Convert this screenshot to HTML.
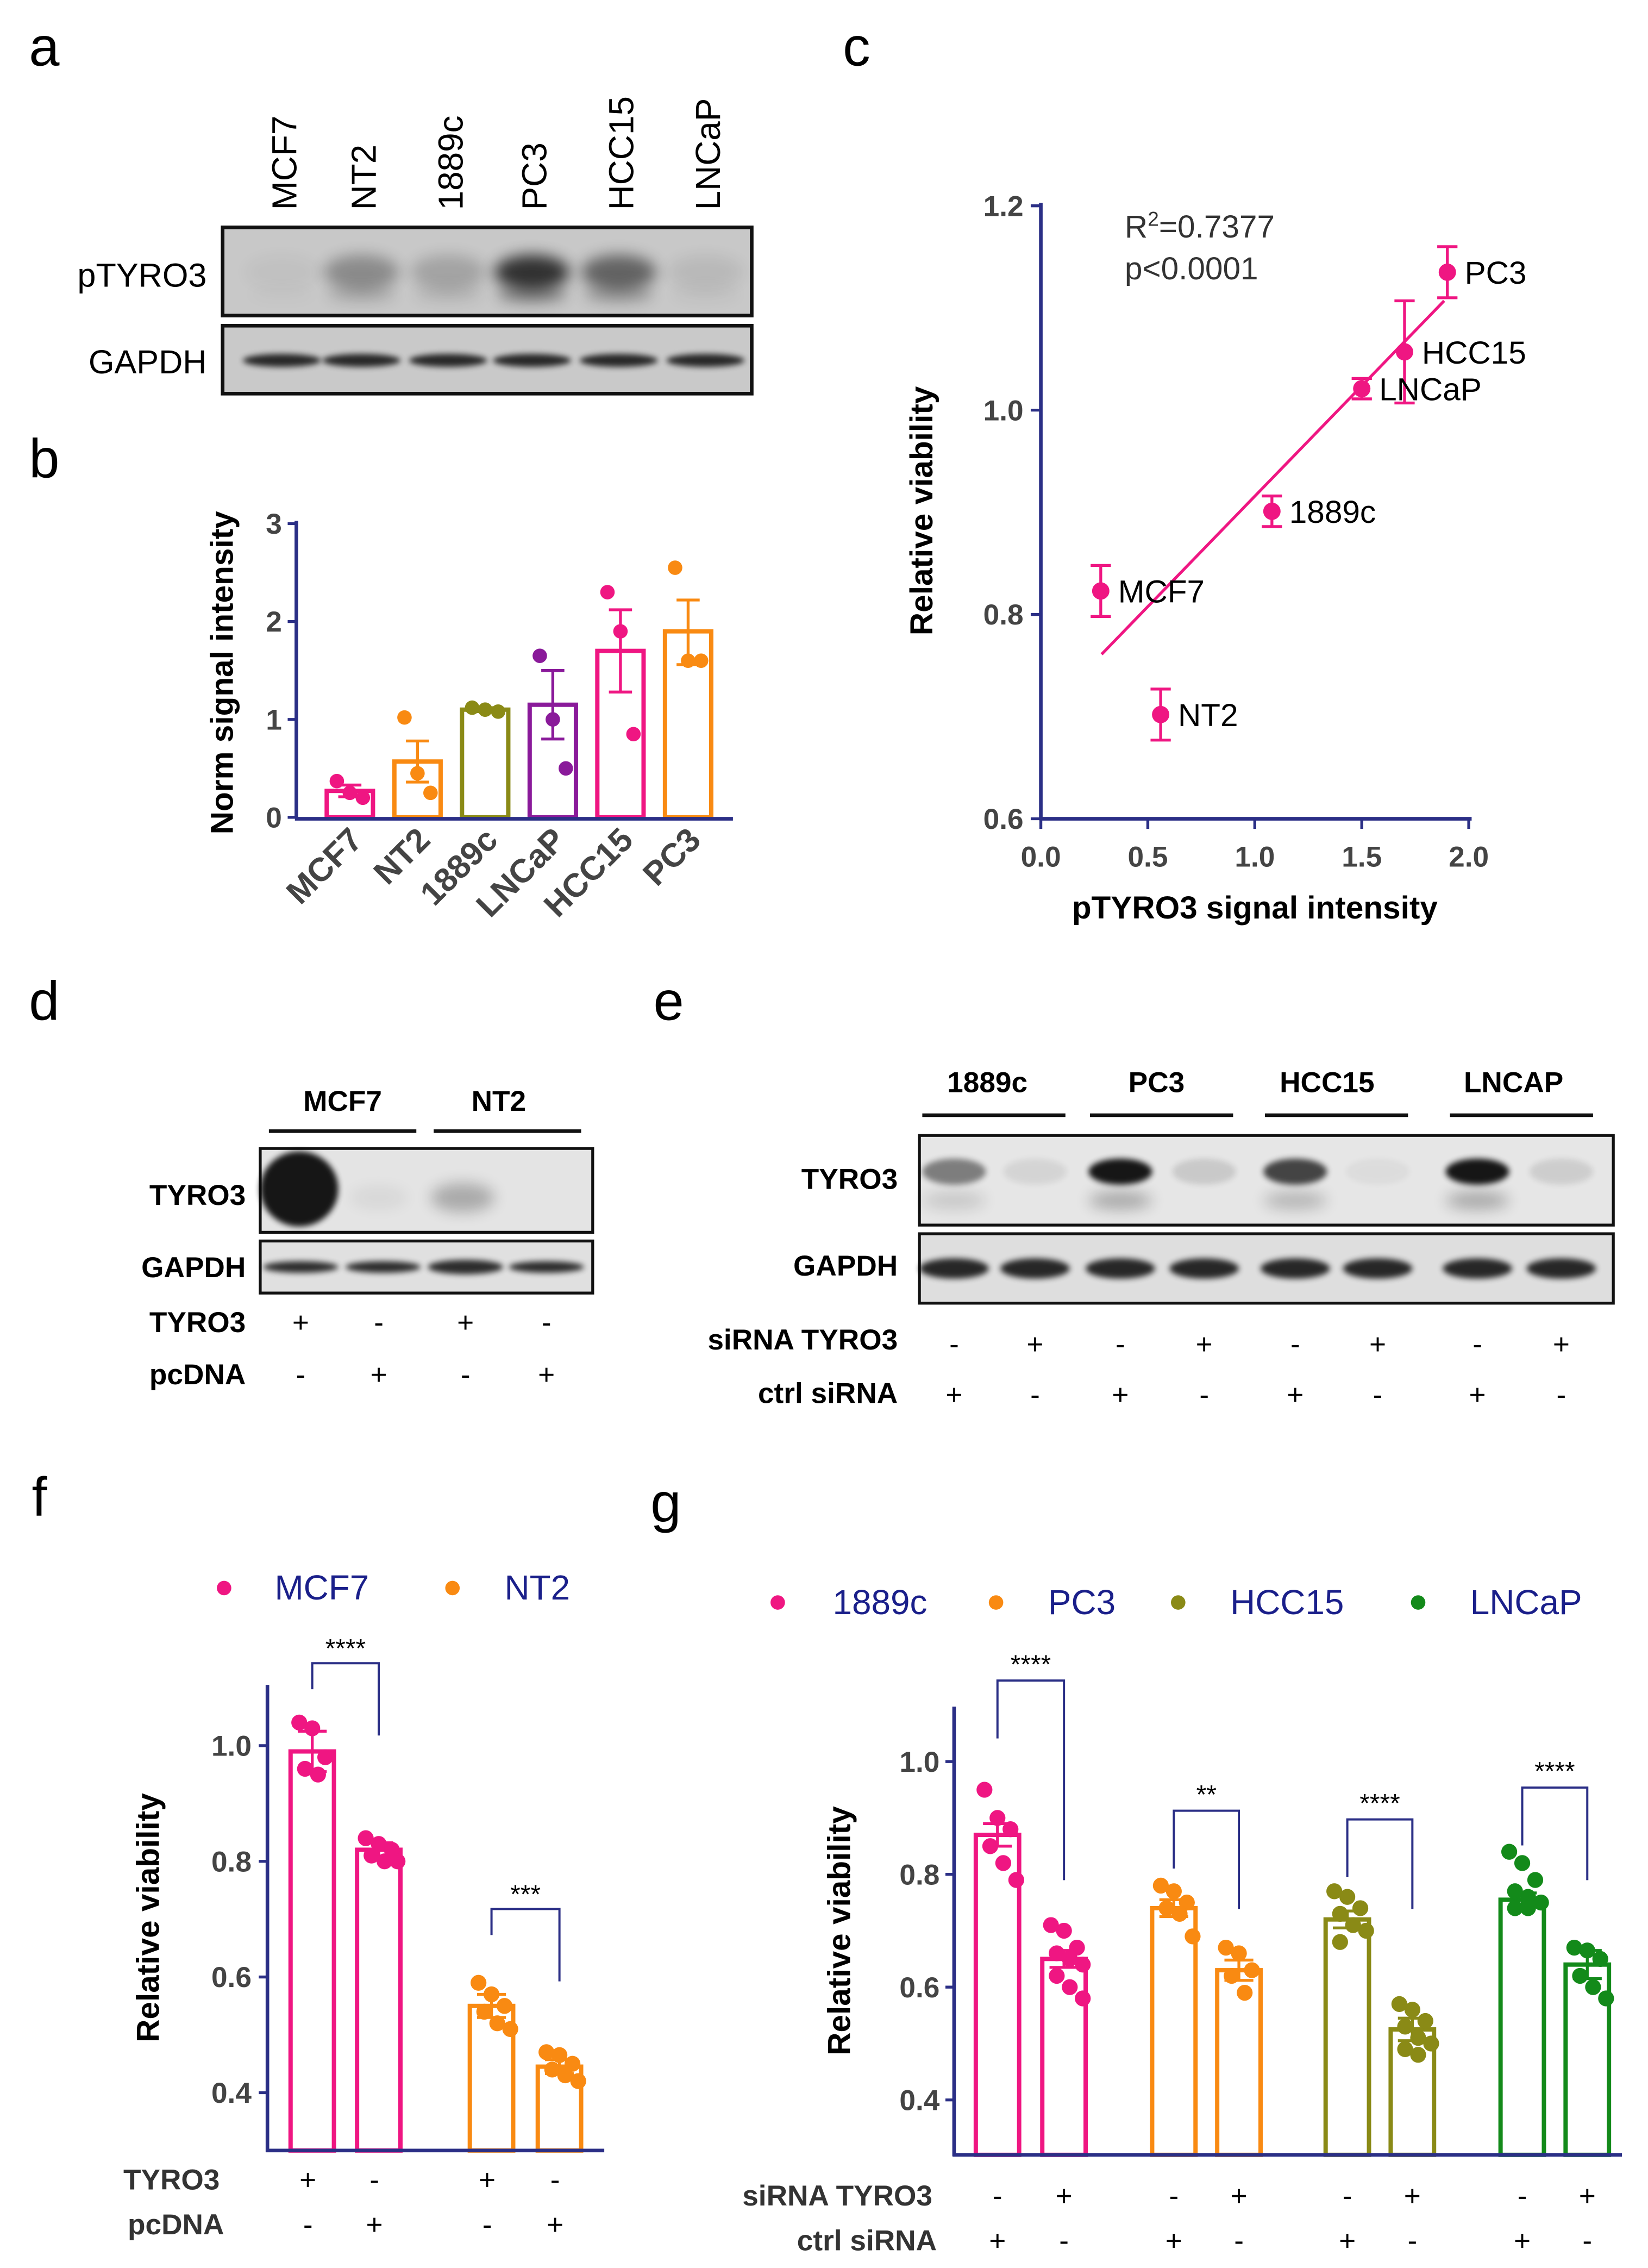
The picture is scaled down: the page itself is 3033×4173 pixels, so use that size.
<!DOCTYPE html>
<html><head><meta charset="utf-8"><style>
html,body{margin:0;padding:0;background:#fff}
svg{display:block}
text{font-family:"Liberation Sans",sans-serif}
</style></head><body>
<svg id="fig" xmlns="http://www.w3.org/2000/svg" width="3033" height="4173" viewBox="0 0 1140 1568">
<defs>
<filter id="bl" x="-50%" y="-100%" width="200%" height="300%"><feGaussianBlur stdDeviation="5"/></filter>
<filter id="bl2" x="-50%" y="-100%" width="200%" height="300%"><feGaussianBlur stdDeviation="2"/></filter>
</defs>
<g id="root"></g>
</svg>
<script>
// ---- data ----
const lanesA = ['MCF7','NT2','1889c','PC3','HCC15','LNCaP'];
const bCats = ['MCF7','NT2','1889c','LNCaP','HCC15','PC3'];
const bMeans = [0.27,0.57,1.1,1.15,1.7,1.9];
const bErrHi = [0.33,0.78,1.12,1.5,2.12,2.22];
const bErrLo = [0.21,0.36,1.08,0.8,1.28,1.56];
const bPts = [[0.37,0.25,0.2],[1.02,0.45,0.25],[1.12,1.1,1.08],[1.65,1.0,0.5],[2.3,1.9,0.85],[2.55,1.6,1.6]];
const bTicks = [0,1,2,3];
const cNames = ['PC3','HCC15','LNCaP','1889c','MCF7','NT2'];
const cX = [1.9,1.7,1.5,1.08,0.28,0.56];
const cY = [1.135,1.057,1.021,0.901,0.823,0.702];
const cErr = [0.025,0.05,0.01,0.015,0.025,0.025];
const cXTicks = [0,0.5,1,1.5,2];
const cYTicks = [0.6,0.8,1.0,1.2];
const cFitX = [0.284,1.885];
const cFitY = [0.761,1.107];
const fMeans = [0.99,0.82,0.55,0.445];
const fErr = [0.035,0.012,0.02,0.012];
const fPts = [[1.04,1.03,0.98,0.96,0.95],[0.84,0.83,0.82,0.81,0.80,0.80],[0.59,0.57,0.55,0.54,0.52,0.51],[0.47,0.465,0.45,0.44,0.43,0.42]];
const fTicks = [0.4,0.6,0.8,1.0];
const gMeans = [0.87,0.65,0.74,0.63,0.72,0.525,0.755,0.64];
const gErr = [0.02,0.015,0.015,0.018,0.015,0.02,0.012,0.025];
const gPts = [[0.95,0.90,0.88,0.85,0.82,0.79],[0.71,0.70,0.67,0.66,0.65,0.64,0.62,0.60,0.58],
 [0.78,0.77,0.75,0.74,0.73,0.69],[0.67,0.66,0.63,0.62,0.59],
 [0.77,0.76,0.74,0.73,0.71,0.70,0.68],[0.57,0.56,0.54,0.53,0.51,0.50,0.49,0.48],
 [0.84,0.82,0.79,0.77,0.76,0.75,0.74,0.74],[0.67,0.665,0.65,0.62,0.60,0.58]];
const gTicks = [0.4,0.6,0.8,1.0];
const gStars = ['****','**','****','****'];

const PINK='#ef1682',ORANGE='#f98a12',OLIVE='#8a8a16',PURPLE='#8a1a9a',GREEN='#138a1a',NAVY='#2b2f86',DARKBLUE='#1a1f8a';
const NS='http://www.w3.org/2000/svg';
const root=document.getElementById('root');
function el(tag,attrs,parent,txt){const e=document.createElementNS(NS,tag);for(const k in attrs)e.setAttribute(k,attrs[k]);if(txt!==undefined)e.textContent=txt;(parent||root).appendChild(e);return e;}

[['a',20,45],['b',20,330],['c',583,45],['d',20,705],['e',452,705],['f',22,1048],['g',450,1052]].forEach(p=>{
 const t=el('text',{x:p[1],y:p[2],'font-size':38});t.textContent=p[0];
 
 
});

// ---- panel a blot ----
const ga=el('g',{});


const laneXA=[195,250,310,368,428,488];
lanesA.forEach((n,i)=>{const t=el('text',{transform:`translate(${laneXA[i]+10},145) rotate(-90)`,'font-size':24},ga,n);
 
 });
el('rect',{x:154,y:157,width:366,height:61,fill:'#c8c8c8',stroke:'#111','stroke-width':2.5},ga);
el('rect',{x:154,y:225,width:366,height:47,fill:'#c9c9c9',stroke:'#111','stroke-width':2.5},ga);
const pInt=[0.03,0.3,0.18,0.75,0.5,0.07];
laneXA.forEach((x,i)=>{el('ellipse',{cx:x,cy:188,rx:26,ry:12,fill:'#000',opacity:pInt[i],filter:'url(#bl)'},ga);
 el('ellipse',{cx:x,cy:203,rx:24,ry:6,fill:'#000',opacity:pInt[i]*0.5,filter:'url(#bl)'},ga);
 el('ellipse',{cx:x,cy:249,rx:27,ry:4.5,fill:'#000',opacity:0.8,filter:'url(#bl2)'},ga);});
el('text',{x:143,y:198,'font-size':23,'text-anchor':'end'},ga,'pTYRO3');
el('text',{x:143,y:258,'font-size':23,'text-anchor':'end'},ga,'GAPDH');

// ---- panel b ----
const gb=el('g',{});


const bY=v=>565-v*67.7, bX=i=>242+i*46.8;
const bCol=[PINK,ORANGE,OLIVE,PURPLE,PINK,ORANGE];
bTicks.forEach(t=>{el('line',{x1:199,x2:205,y1:bY(t),y2:bY(t),stroke:NAVY,'stroke-width':2},gb);
 el('text',{x:195,y:bY(t)+7,'font-size':20,'text-anchor':'end',fill:'#444','font-weight':'bold'},gb,t);});
bCats.forEach((c,i)=>{const x=bX(i);
 const r=el('rect',{x:x-16,y:bY(bMeans[i]),width:32,height:bY(0)-bY(bMeans[i]),fill:'none',stroke:bCol[i],'stroke-width':3},gb);
 
 
 el('line',{x1:x,x2:x,y1:bY(bErrHi[i]),y2:bY(bErrLo[i]),stroke:bCol[i],'stroke-width':2},gb);
 el('line',{x1:x-8,x2:x+8,y1:bY(bErrHi[i]),y2:bY(bErrHi[i]),stroke:bCol[i],'stroke-width':2},gb);
 el('line',{x1:x-8,x2:x+8,y1:bY(bErrLo[i]),y2:bY(bErrLo[i]),stroke:bCol[i],'stroke-width':2},gb);
 bPts[i].forEach((v,j)=>{const d=el('circle',{cx:x+(j-1)*9,cy:bY(v),r:5,fill:bCol[i]},gb);
  
  });
 el('text',{transform:`translate(${x+10},${582}) rotate(-45)`,'font-size':23,'text-anchor':'end',fill:'#444','font-weight':'bold'},gb,c);
});
el('line',{x1:205,x2:205,y1:360,y2:566,stroke:NAVY,'stroke-width':2.5},gb);
el('line',{x1:204,x2:507,y1:566,y2:566,stroke:NAVY,'stroke-width':2.5},gb);
el('text',{transform:'translate(161,465) rotate(-90)','font-size':22,'text-anchor':'middle','font-weight':'bold'},gb,'Norm signal intensity');

// ---- panel c ----
const gc=el('g',{});


const cXs=v=>720+v*148, cYs=v=>566-(v-0.6)*706.5;
cYTicks.forEach(t=>{el('line',{x1:713,x2:720,y1:cYs(t),y2:cYs(t),stroke:NAVY,'stroke-width':2},gc);
 el('text',{x:708,y:cYs(t)+7,'font-size':20,'text-anchor':'end',fill:'#444','font-weight':'bold'},gc,t.toFixed(1));});
cXTicks.forEach(t=>{el('line',{x1:cXs(t),x2:cXs(t),y1:566,y2:573,stroke:NAVY,'stroke-width':2},gc);
 el('text',{x:cXs(t),y:599,'font-size':20,'text-anchor':'middle',fill:'#444','font-weight':'bold'},gc,t.toFixed(1));});
el('line',{x1:720,x2:720,y1:140,y2:567,stroke:NAVY,'stroke-width':2.5},gc);
el('line',{x1:719,x2:1018,y1:566,y2:566,stroke:NAVY,'stroke-width':2.5},gc);
const fl=el('line',{x1:cXs(cFitX[0]),y1:cYs(cFitY[0]),x2:cXs(cFitX[1]),y2:cYs(cFitY[1]),stroke:PINK,'stroke-width':2},gc);


cNames.forEach((n,i)=>{const x=cXs(cX[i]),y=cYs(cY[i]),e=cErr[i];
 el('line',{x1:x,x2:x,y1:cYs(cY[i]+e),y2:cYs(cY[i]-e),stroke:PINK,'stroke-width':2},gc);
 el('line',{x1:x-7,x2:x+7,y1:cYs(cY[i]+e),y2:cYs(cY[i]+e),stroke:PINK,'stroke-width':2},gc);
 el('line',{x1:x-7,x2:x+7,y1:cYs(cY[i]-e),y2:cYs(cY[i]-e),stroke:PINK,'stroke-width':2},gc);
 const d=el('circle',{cx:x,cy:y,r:6,fill:PINK},gc);
 
 
 el('text',{x:x+12,y:y+8,'font-size':22},gc,n);});
const r2=el('text',{x:778,y:164,'font-size':22,fill:'#333'},gc);r2.innerHTML='R<tspan dy="-8" font-size="14">2</tspan><tspan dy="8">=0.7377</tspan>';
el('text',{x:778,y:193,'font-size':22,fill:'#333'},gc,'p<0.0001');
el('text',{transform:'translate(645,353) rotate(-90)','font-size':22,'text-anchor':'middle','font-weight':'bold'},gc,'Relative viability');
el('text',{x:868,y:635,'font-size':22,'text-anchor':'middle','font-weight':'bold'},gc,'pTYRO3 signal intensity');

// ---- panel d blot ----
const gd=el('g',{});


el('text',{x:237,y:768,'font-size':20,'font-weight':'bold','text-anchor':'middle'},gd,'MCF7');
el('text',{x:345,y:768,'font-size':20,'font-weight':'bold','text-anchor':'middle'},gd,'NT2');
el('line',{x1:186,x2:288,y1:782,y2:782,stroke:'#111','stroke-width':2.5},gd);
el('line',{x1:300,x2:402,y1:782,y2:782,stroke:'#111','stroke-width':2.5},gd);
el('rect',{x:180,y:794,width:230,height:58,fill:'#e4e4e4',stroke:'#111','stroke-width':2},gd);
el('rect',{x:180,y:858,width:230,height:36,fill:'#e0e0e0',stroke:'#111','stroke-width':2},gd);
el('ellipse',{cx:207,cy:822,rx:27,ry:26,fill:'#000',opacity:0.9,filter:'url(#bl2)'},gd);
el('ellipse',{cx:320,cy:828,rx:22,ry:10,fill:'#000',opacity:0.25,filter:'url(#bl)'},gd);
el('ellipse',{cx:262,cy:828,rx:20,ry:8,fill:'#000',opacity:0.05,filter:'url(#bl)'},gd);
[208,265,322,378].forEach((x,i)=>el('ellipse',{cx:x,cy:876,rx:26,ry:[4,4,5,4][i],fill:'#000',opacity:0.8,filter:'url(#bl2)'},gd));
el('text',{x:170,y:833,'font-size':20,'font-weight':'bold','text-anchor':'end'},gd,'TYRO3');
el('text',{x:170,y:883,'font-size':20,'font-weight':'bold','text-anchor':'end'},gd,'GAPDH');
el('text',{x:170,y:921,'font-size':20,'font-weight':'bold','text-anchor':'end'},gd,'TYRO3');
el('text',{x:170,y:957,'font-size':20,'font-weight':'bold','text-anchor':'end'},gd,'pcDNA');
['+','-','+','-'].forEach((s,i)=>el('text',{x:[208,262,322,378][i],y:921,'font-size':20,'text-anchor':'middle'},gd,s));
['-','+','-','+'].forEach((s,i)=>el('text',{x:[208,262,322,378][i],y:957,'font-size':20,'text-anchor':'middle'},gd,s));

// ---- panel e blot ----
const ge=el('g',{});


[['1889c',683,638,737],['PC3',800,754,853],['HCC15',918,875,974],['LNCAP',1047,1003,1102]].forEach(g=>{
 el('text',{x:g[1],y:755,'font-size':20,'font-weight':'bold','text-anchor':'middle'},ge,g[0]);
 el('line',{x1:g[2],x2:g[3],y1:771,y2:771,stroke:'#111','stroke-width':2.5},ge);});
el('rect',{x:636,y:785,width:480,height:62,fill:'#e6e6e6',stroke:'#111','stroke-width':2},ge);
el('rect',{x:636,y:853,width:480,height:48,fill:'#dedede',stroke:'#111','stroke-width':2},ge);
const eLX=[660,716,775,833,896,953,1022,1080];
const eInt=[0.45,0.07,0.9,0.12,0.7,0.04,0.9,0.1];
eLX.forEach((x,i)=>{el('ellipse',{cx:x,cy:810,rx:22,ry:9,fill:'#000',opacity:eInt[i],filter:'url(#bl2)'},ge);
 if(eInt[i]>0.4)el('ellipse',{cx:x,cy:830,rx:22,ry:6,fill:'#000',opacity:eInt[i]*0.3,filter:'url(#bl)'},ge);
 el('ellipse',{cx:x,cy:877,rx:24,ry:7,fill:'#000',opacity:0.82,filter:'url(#bl2)'},ge);});
el('text',{x:621,y:822,'font-size':20,'font-weight':'bold','text-anchor':'end'},ge,'TYRO3');
el('text',{x:621,y:882,'font-size':20,'font-weight':'bold','text-anchor':'end'},ge,'GAPDH');
el('text',{x:621,y:933,'font-size':20,'font-weight':'bold','text-anchor':'end'},ge,'siRNA TYRO3');
el('text',{x:621,y:970,'font-size':20,'font-weight':'bold','text-anchor':'end'},ge,'ctrl siRNA');
eLX.forEach((x,i)=>{el('text',{x:x,y:936,'font-size':20,'text-anchor':'middle'},ge,i%2?'+':'-');
 el('text',{x:x,y:971,'font-size':20,'text-anchor':'middle'},ge,i%2?'-':'+');});

function barPanel(g,xs,means,errs,pts,cols,yf,w,name){
 xs.forEach((x,i)=>{const c=cols[i];
  const r=el('rect',{x:x-w/2,y:yf(means[i]),width:w,height:yf.base-yf(means[i]),fill:'none',stroke:c,'stroke-width':3},g);
  
  
  const hi=yf(means[i]+errs[i]),lo=yf(means[i]-errs[i]);
  el('line',{x1:x,x2:x,y1:hi,y2:lo,stroke:c,'stroke-width':2},g);
  el('line',{x1:x-10,x2:x+10,y1:hi,y2:hi,stroke:c,'stroke-width':2},g);
  el('line',{x1:x-10,x2:x+10,y1:lo,y2:lo,stroke:c,'stroke-width':2},g);
  pts[i].forEach((v,j)=>{const off=((j%3)-1)*9+(j>=3?4:0);
   const d=el('circle',{cx:x+off,cy:yf(v),r:5.5,fill:c},g);
   
   });
 });
}

// ---- panel f ----
const gf=el('g',{});


const fY=v=>1447-(v-0.4)*400; fY.base=1487;
const fX=[216,262,340,387];
fTicks.forEach(t=>{el('line',{x1:179,x2:185,y1:fY(t),y2:fY(t),stroke:NAVY,'stroke-width':2},gf);
 el('text',{x:174,y:fY(t)+7,'font-size':20,'text-anchor':'end',fill:'#444','font-weight':'bold'},gf,t.toFixed(1));});
barPanel(gf,fX,fMeans,fErr,fPts,[PINK,PINK,ORANGE,ORANGE],fY,30,'f');
el('line',{x1:185,x2:185,y1:1165,y2:1488,stroke:NAVY,'stroke-width':2.5},gf);
el('line',{x1:184,x2:418,y1:1487,y2:1487,stroke:NAVY,'stroke-width':2.5},gf);
[[216,262,1150,'****'],[340,387,1320,'***']].forEach(s=>{
 el('path',{d:`M${s[0]},${s[2]+18}V${s[2]}H${s[1]}V${s[2]+50}`,fill:'none',stroke:NAVY,'stroke-width':1.5},gf);
 el('text',{x:(s[0]+s[1])/2,y:s[2]-4,'font-size':18,'text-anchor':'middle'},gf,s[3]);});
el('text',{transform:'translate(110,1326) rotate(-90)','font-size':22,'text-anchor':'middle','font-weight':'bold'},gf,'Relative viability');
el('circle',{cx:155,cy:1098,r:5,fill:PINK},gf);
el('text',{x:190,y:1106,'font-size':24,fill:DARKBLUE},gf,'MCF7');
el('circle',{cx:313,cy:1098,r:5,fill:ORANGE},gf);
el('text',{x:349,y:1106,'font-size':24,fill:DARKBLUE},gf,'NT2');
el('text',{x:152,y:1514,'font-size':20,'font-weight':'bold','text-anchor':'end',fill:'#333'},gf,'TYRO3');
el('text',{x:155,y:1545,'font-size':20,'font-weight':'bold','text-anchor':'end',fill:'#333'},gf,'pcDNA');
fX.forEach((x,i)=>{el('text',{x:x-3,y:1514,'font-size':20,'text-anchor':'middle'},gf,i%2?'-':'+');
 el('text',{x:x-3,y:1545,'font-size':20,'text-anchor':'middle'},gf,i%2?'+':'-');});

// ---- panel g ----
const gg=el('g',{});


const gY=v=>1452-(v-0.4)*390; gY.base=1490;
const gX=[690,736,812,857,932,977,1053,1098];
gTicks.forEach(t=>{el('line',{x1:654,x2:660,y1:gY(t),y2:gY(t),stroke:NAVY,'stroke-width':2},gg);
 el('text',{x:650,y:gY(t)+7,'font-size':20,'text-anchor':'end',fill:'#444','font-weight':'bold'},gg,t.toFixed(1));});
barPanel(gg,gX,gMeans,gErr,gPts,[PINK,PINK,ORANGE,ORANGE,OLIVE,OLIVE,GREEN,GREEN],gY,30,'g');
el('line',{x1:660,x2:660,y1:1180,y2:1491,stroke:NAVY,'stroke-width':2.5},gg);
el('line',{x1:659,x2:1122,y1:1490,y2:1490,stroke:NAVY,'stroke-width':2.5},gg);
[[1162,1300],[1252,1320],[1258,1320],[1236,1300]].forEach((s,k)=>{const a=gX[2*k],b=gX[2*k+1];
 el('path',{d:`M${a},${s[0]+40}V${s[0]}H${b}V${s[1]}`,fill:'none',stroke:NAVY,'stroke-width':1.5},gg);
 el('text',{x:(a+b)/2,y:s[0]-5,'font-size':18,'text-anchor':'middle'},gg,gStars[k]);});
el('text',{transform:'translate(588,1335) rotate(-90)','font-size':22,'text-anchor':'middle','font-weight':'bold'},gg,'Relative viability');
[['1889c',PINK,538,576],['PC3',ORANGE,689,725],['HCC15',OLIVE,815,851],['LNCaP',GREEN,981,1017]].forEach(l=>{
 const c=el('circle',{cx:l[2],cy:1108,r:5,fill:l[1]},gg);
 
 
 el('text',{x:l[3],y:1116,'font-size':24,fill:DARKBLUE},gg,l[0]);});
el('text',{x:645,y:1525,'font-size':20,'font-weight':'bold','text-anchor':'end',fill:'#333'},gg,'siRNA TYRO3');
el('text',{x:648,y:1556,'font-size':20,'font-weight':'bold','text-anchor':'end',fill:'#333'},gg,'ctrl siRNA');
gX.forEach((x,i)=>{el('text',{x:x,y:1525,'font-size':20,'text-anchor':'middle'},gg,i%2?'+':'-');
 el('text',{x:x,y:1556,'font-size':20,'text-anchor':'middle'},gg,i%2?'-':'+');});
</script>
</body></html>
